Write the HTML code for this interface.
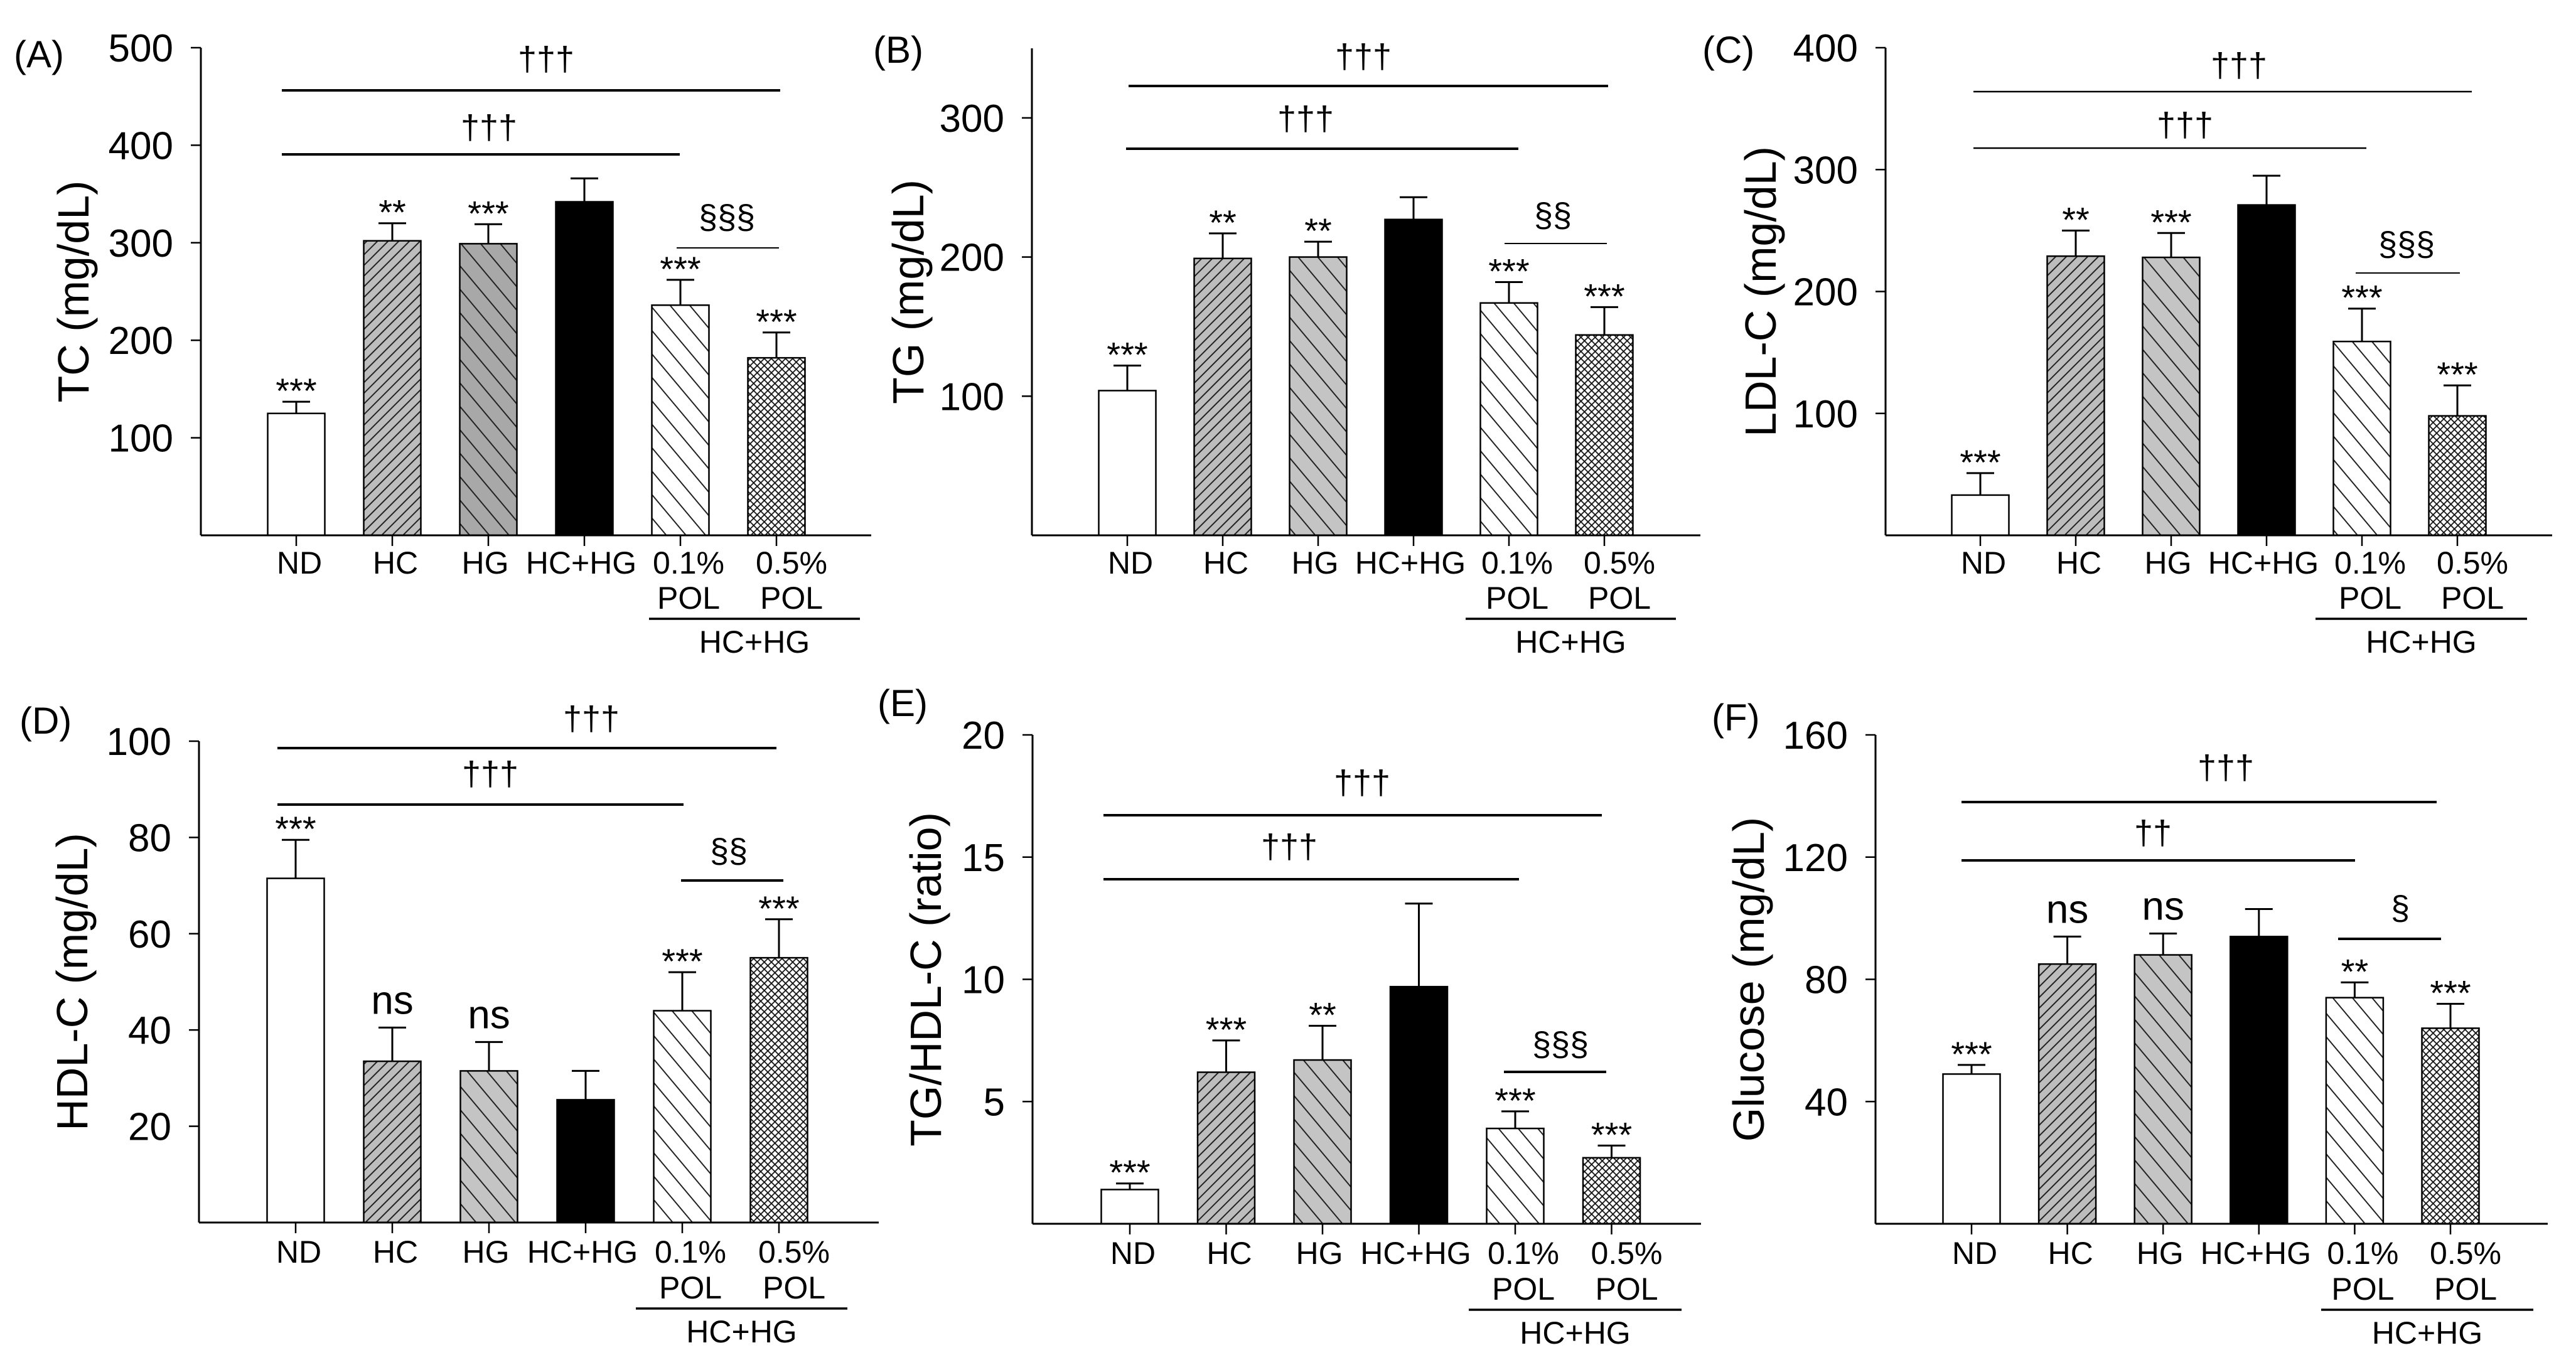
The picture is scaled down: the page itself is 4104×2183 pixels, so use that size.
<!DOCTYPE html>
<html><head><meta charset="utf-8"><style>
html,body{margin:0;padding:0;background:#fff;}
svg{display:block;}
text{font-family:"Liberation Sans",Arial,sans-serif;fill:#000;}
</style></head><body>
<svg id="fig" width="4104" height="2183" viewBox="0 0 4104 2183" xmlns="http://www.w3.org/2000/svg">
<defs>
<pattern id="pHC" patternUnits="userSpaceOnUse" width="12" height="20" patternTransform="rotate(45)"><rect width="12" height="20" fill="#bdbdbd"/><line x1="1" y1="0" x2="1" y2="20" stroke="#222" stroke-width="2"/></pattern>
<pattern id="pHGd" patternUnits="userSpaceOnUse" width="24" height="20" patternTransform="rotate(-40)"><rect width="24" height="20" fill="#a8a8a8"/><line x1="1" y1="0" x2="1" y2="20" stroke="#222" stroke-width="2"/></pattern>
<pattern id="pHG" patternUnits="userSpaceOnUse" width="24" height="20" patternTransform="rotate(-40)"><rect width="24" height="20" fill="#c4c4c4"/><line x1="1" y1="0" x2="1" y2="20" stroke="#222" stroke-width="2"/></pattern>
<pattern id="pP1" patternUnits="userSpaceOnUse" width="24" height="20" patternTransform="rotate(-40)"><rect width="24" height="20" fill="#fff"/><line x1="1" y1="0" x2="1" y2="20" stroke="#222" stroke-width="2"/></pattern>
<pattern id="pX1" patternUnits="userSpaceOnUse" width="8" height="20" patternTransform="rotate(45)"><line x1="1" y1="0" x2="1" y2="20" stroke="#111" stroke-width="1.8"/></pattern>
<pattern id="pX2" patternUnits="userSpaceOnUse" width="8" height="20" patternTransform="rotate(-45)"><line x1="1" y1="0" x2="1" y2="20" stroke="#111" stroke-width="1.8"/></pattern>
</defs>
</svg>
<script>
const categories = ["ND","HC","HG","HC+HG","0.1%","0.5%"];
const tcMeans = [125,302,299,342,236,182];
const tcErrors = [12,18,20,24,26,26];
const tcStars = ["***","**","***","","***","***"];
const tcTicks = [100,200,300,400,500];
const tgMeans = [104,199,200,227,167,144];
const tgErrors = [18,18,11,16,15,20];
const tgStars = ["***","**","**","","***","***"];
const tgTicks = [100,200,300];
const ldlMeans = [33,229,228,271,159,98];
const ldlErrors = [18,21,20,24,27,25];
const ldlStars = ["***","**","***","","***","***"];
const ldlTicks = [100,200,300,400];
const hdlMeans = [71.5,33.5,31.5,25.5,44,55];
const hdlErrors = [8,7,6,6,8,8];
const hdlStars = ["***","ns","ns","","***","***"];
const hdlTicks = [20,40,60,80,100];
const ratioMeans = [1.4,6.2,6.7,9.7,3.9,2.7];
const ratioErrors = [0.25,1.3,1.4,3.4,0.7,0.5];
const ratioStars = ["***","***","**","","***","***"];
const ratioTicks = [5,10,15,20];
const gluMeans = [49,85,88,94,74,64];
const gluErrors = [3,9,7,9,5,8];
const gluStars = ["***","ns","ns","","**","***"];
const gluTicks = [40,80,120,160];

const NS="http://www.w3.org/2000/svg";
const svg=document.getElementById('fig');
function mk(tag,attrs,parent){const e=document.createElementNS(NS,tag);for(const k in attrs)e.setAttribute(k,attrs[k]);(parent||svg).appendChild(e);return e;}
function txt(str,x,y,size,anchor,parent){const t=mk('text',{x:x,y:y,'font-size':size,'text-anchor':anchor||'middle'},parent);t.textContent=str;return t;}

const fills=[null,'url(#pHC)','url(#pHG)','#000','url(#pP1)','cross'];
const labelOff=[5,5,-5,-5,13,24];

const panels=[
 {id:'tc',letter:'(A)',lx:22,ly:107,title:'TC (mg/dL)',tx:116,ax:320,top:76,zero:853,max:500,end:1388,c0:472,sp:153,ticks:tcTicks,means:tcMeans,errs:tcErrors,stars:tcStars,dark:true,row:0,
  sig:[[449,1243,144,'†††',870,112,4],[449,1083,246,'†††',779,221,4],[1078,1241,395,'§§§',1158,364,2]],br:[1034,1370]},
 {id:'tg',letter:'(B)',lx:1391,ly:100,title:'TG (mg/dL)',tx:1446,ax:1644,top:77,zero:853,max:350,end:2709,c0:1796,sp:152,ticks:tgTicks,means:tgMeans,errs:tgErrors,stars:tgStars,row:0,
  sig:[[1798,2562,137,'†††',2172,108,4],[1794,2419,237,'†††',2080,207,4],[2397,2560,388,'§§',2474,361,2]],br:[2335,2670]},
 {id:'ldl',letter:'(C)',lx:2712,ly:100,title:'LDL-C (mg/dL)',tx:2804,ax:3004,top:76,zero:853,max:400,end:4066,c0:3155,sp:152,ticks:ldlTicks,means:ldlMeans,errs:ldlErrors,stars:ldlStars,row:0,
  sig:[[3144,3938,146,'†††',3567,122,2.5],[3144,3770,236,'†††',3481,217,2.5],[3753,3919,435,'§§§',3834,407,2]],br:[3689,4026]},
 {id:'hdl',letter:'(D)',lx:31,ly:1169,title:'HDL-C (mg/dL)',tx:114,ax:317,top:1181,zero:1948,max:100,end:1400,c0:471,sp:154,ticks:hdlTicks,means:hdlMeans,errs:hdlErrors,stars:hdlStars,row:1,
  sig:[[442,1237,1192,'†††',942,1163,4],[442,1089,1282,'†††',781,1251,4],[1085,1248,1403,'§§',1161,1374,4]],br:[1013,1350]},
 {id:'ratio',letter:'(E)',lx:1398,ly:1141,title:'TG/HDL-C (ratio)',tx:1474,ax:1645,top:1171,zero:1950,max:20,end:2710,c0:1800,sp:153.5,ticks:ratioTicks,means:ratioMeans,errs:ratioErrors,stars:ratioStars,row:1,
  sig:[[1758,2552,1299,'†††',2170,1265,4],[1758,2420,1401,'†††',2054,1367,4],[2396,2559,1708,'§§§',2486,1682,4]],br:[2340,2679]},
 {id:'glu',letter:'(F)',lx:2727,ly:1164,title:'Glucose (mg/dL)',tx:2785,ax:2988,top:1171,zero:1950,max:160,end:4059,c0:3141,sp:152.6,ticks:gluTicks,means:gluMeans,errs:gluErrors,stars:gluStars,row:1,
  sig:[[3125,3882,1278,'†††',3546,1241,4],[3125,3752,1371,'††',3430,1345,4],[3725,3889,1496,'§',3824,1465,4]],br:[3698,4036]}
];

panels.forEach(p=>{
  const g=mk('g',{});
  
  
  const y=v=>p.zero-(v/p.max)*(p.zero-p.top);
  const x=i=>p.c0+i*p.sp;
  const bw=91;
  const L=txt(p.letter,p.lx,p.ly,60,'start',g);
  
  
  const T=mk('text',{x:0,y:0,'font-size':70,'text-anchor':'middle',transform:`translate(${p.tx+25},${(p.top+p.zero)/2}) rotate(-90)`},g);
  T.textContent=p.title;
  
  
  p.means.forEach((m,i)=>{
    const bx=x(i)-bw/2, by=y(m), bh=p.zero-by;
    let f=fills[i];
    if(i===0) f='#fff';
    if(i===2 && p.dark) f='url(#pHGd)';
    if(i===5){
      const r0=mk('rect',{x:bx,y:by,width:bw,height:bh,fill:'#fff'},g);
      
      
      mk('rect',{x:bx,y:by,width:bw,height:bh,fill:'url(#pX1)'},g);
      f='url(#pX2)';
    }
    const r=mk('rect',{x:bx,y:by,width:bw,height:bh,fill:f,stroke:'#000','stroke-width':2.5},g);
    
    
    const ey=y(m+p.errs[i]);
    const e1=mk('line',{x1:x(i),x2:x(i),y1:by,y2:ey,stroke:'#000','stroke-width':3},g);
    
    
    mk('line',{x1:x(i)-22,x2:x(i)+22,y1:ey,y2:ey,stroke:'#000','stroke-width':3},g);
    const s=p.stars[i];
    if(s){
      const st=txt(s,x(i),s==='ns'?ey-22:ey+2,s==='ns'?64:56,'middle',g);
      
      
    }
    mk('line',{x1:x(i),x2:x(i),y1:p.zero,y2:p.zero+17,stroke:'#000','stroke-width':2.5},g);
  });
  const ya=mk('line',{x1:p.ax,x2:p.ax,y1:p.top,y2:p.zero,stroke:'#000','stroke-width':3},g);
  
  
  const xa=mk('line',{x1:p.ax,x2:p.end,y1:p.zero,y2:p.zero,stroke:'#000','stroke-width':3},g);
  
  
  p.ticks.forEach(t=>{
    mk('line',{x1:p.ax-16,x2:p.ax,y1:y(t),y2:y(t),stroke:'#000','stroke-width':2.5},g);
    const tl=txt(String(t),p.ax-44,y(t)+22,62,'end',g);
    
    
  });
  const o=p.row?[64,121,137,191]:[61,117,133,187];
  categories.forEach((c,i)=>{
    const cx=x(i)+labelOff[i];
    const xl=txt(c,cx,p.zero+o[0],50,'middle',g);
    
    
    if(i>=4){txt('POL',cx,p.zero+o[1],50,'middle',g);}
  });
  const bl=mk('line',{x1:p.br[0],x2:p.br[1],y1:p.zero+o[2],y2:p.zero+o[2],stroke:'#000','stroke-width':3.5},g);
  
  
  const bt=txt('HC+HG',(p.br[0]+p.br[1])/2,p.zero+o[3],50,'middle',g);
  
  
  p.sig.forEach((s,k)=>{
    const sl=mk('line',{x1:s[0],x2:s[1],y1:s[2],y2:s[2],stroke:'#000','stroke-width':s[6]},g);
    
    
    const stx=txt(s[3],s[4],s[5],54,'middle',g);
    
    
  });
});
</script>
</body></html>
